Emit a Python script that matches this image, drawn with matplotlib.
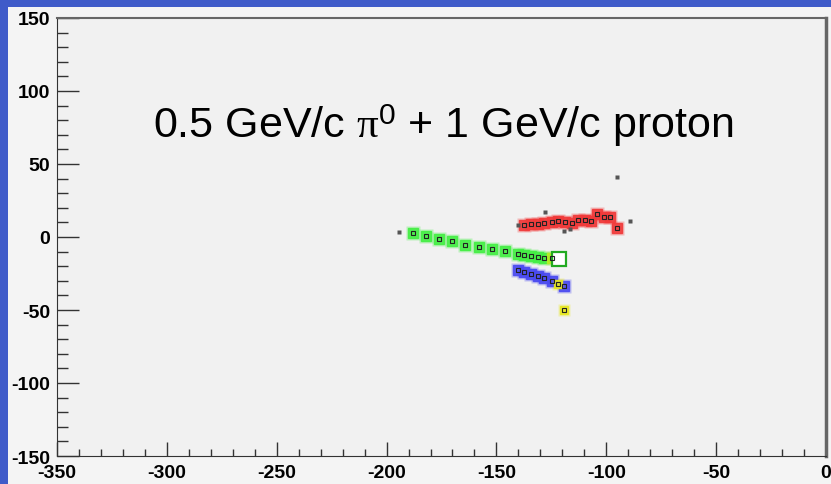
import matplotlib
matplotlib.use('Agg')
import matplotlib.pyplot as plt
from matplotlib.patches import Rectangle
from matplotlib.ticker import MultipleLocator

plt.rcParams['font.family'] = ['Liberation Sans', 'DejaVu Sans']
plt.rcParams['mathtext.fontset'] = 'custom'
plt.rcParams['mathtext.rm'] = 'Liberation Serif'
plt.rcParams['mathtext.it'] = 'Liberation Serif:italic'
plt.rcParams['mathtext.sf'] = 'Liberation Sans'

# hits (x, y in cm)
green_x = [-188.1, -182.0, -176.0, -170.2, -164.2, -158.1, -152.1, -146.1,
           -140.3, -137.3, -134.1, -131.2, -128.2]
green_y = [2.7, 0.7, -1.6, -2.9, -5.3, -6.8, -8.2, -9.6,
           -11.6, -12.1, -13.0, -13.7, -14.4]
greenyel_x = [-124.8]
greenyel_y = [-14.4]
box_x = [-121.5]
box_y = [-14.9]

blue_x = [-140.3, -137.3, -134.1, -131.2, -128.2, -124.8, -119.1]
blue_y = [-22.4, -24.2, -25.6, -27.0, -27.9, -30.0, -33.4]

yellow_x = [-122.1, -119.2]
yellow_y = [-32.4, -50.0]

red_x = [-137.3, -134.1, -131.2, -128.2, -124.8, -121.8, -118.8, -115.8,
         -113.0, -109.7, -107.0, -104.2, -101.0, -98.3, -95.0]
red_y = [8.4, 8.9, 8.9, 9.4, 10.3, 11.0, 10.1, 9.8,
         11.4, 11.4, 11.0, 16.0, 13.5, 13.7, 6.4]

gray_x = [-194.2, -140.3, -95.1, -89.3, -128.0, -119.2, -116.4]
gray_y = [3.2, 8.2, 41.1, 10.8, 16.9, 4.3, 5.5]

title = r'0.5 GeV/c $\mathrm{\pi}^{\mathsf{0}}$ + 1 GeV/c proton'

fig = plt.figure(figsize=(8.31, 4.85), dpi=100)
fig.patch.set_facecolor('#f4f4f4')
# slide border (blue strips top and left)
fig.patches.append(Rectangle((0, (485-8)/485), 1, 8/485, transform=fig.transFigure,
                             facecolor='#3f5bc9', edgecolor='none'))
fig.patches.append(Rectangle((0, 0), 8/831, 1, transform=fig.transFigure,
                             facecolor='#3f5bc9', edgecolor='none'))
ax = fig.add_axes([57/831, (485-457)/485, 769/831, 438/485])
ax.set_facecolor('#f1f1f1')


def hits(x, y, c, s=6.5):
    ax.plot(x, y, 's', ms=s+3, color=c, alpha=0.3, mec='none', zorder=3)
    ax.plot(x, y, 's', ms=s, mfc=c, mec=c, mew=1, alpha=0.9, zorder=4)
    ax.plot(x, y, 's', ms=3, mfc='none', mec='#222222', mew=0.8, zorder=5)


hits(green_x, green_y, '#44ee44')
hits(greenyel_x, greenyel_y, '#bbee22')
hits(blue_x, blue_y, '#4a4af0')
hits(red_x, red_y, '#f03a3a')
hits(yellow_x, yellow_y, '#e8e820', s=6)
ax.plot(box_x, box_y, 's', ms=10, mfc='white', mec='#22aa22', mew=1.6, zorder=4)
ax.plot(gray_x, gray_y, 's', ms=2.2, color='#555555', mec='none', zorder=5)

ax.text(-306.3, 68.5, title, fontsize=31, ha='left', va='baseline', color='black')

ax.set_xlim(-350, 0)
ax.set_ylim(-150, 150)
ax.xaxis.set_major_locator(MultipleLocator(50))
ax.xaxis.set_minor_locator(MultipleLocator(10))
ax.yaxis.set_major_locator(MultipleLocator(50))
ax.yaxis.set_minor_locator(MultipleLocator(10))
ax.tick_params(axis='x', which='major', direction='in', length=10, width=1, color='#333333', pad=6)
ax.tick_params(axis='x', which='minor', direction='in', length=5, width=1, color='#333333')
ax.tick_params(axis='y', which='major', direction='in', length=16, width=1, color='#333333', pad=5)
ax.tick_params(axis='y', which='minor', direction='in', length=8, width=1, color='#333333')
ax.xaxis.set_major_formatter(plt.FuncFormatter(lambda v, p: '%d' % v))
ax.yaxis.set_major_formatter(plt.FuncFormatter(lambda v, p: '%d' % v))
for lab in ax.get_xticklabels() + ax.get_yticklabels():
    lab.set_fontweight('bold')
    lab.set_fontsize(14)

ax.spines['left'].set_color('#333333')
ax.spines['bottom'].set_color('#333333')
ax.spines['top'].set_color('#666666')
ax.spines['right'].set_color('#666666')
ax.spines['top'].set_linewidth(1.5)
ax.spines['right'].set_linewidth(2.5)

fig.savefig('out.png', dpi=100, facecolor=fig.get_facecolor())
